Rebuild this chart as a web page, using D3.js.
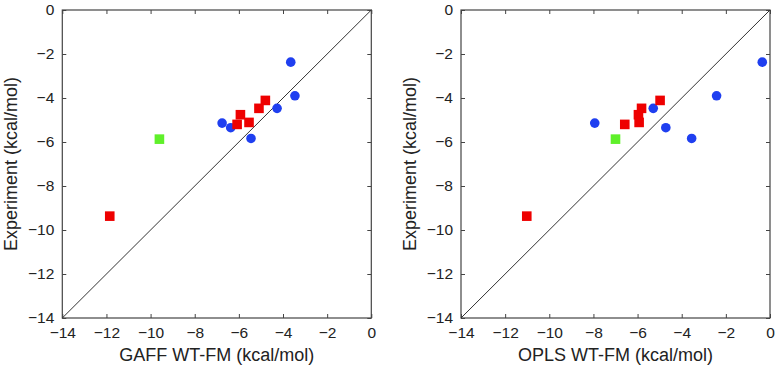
<!DOCTYPE html>
<html>
<head>
<meta charset="utf-8">
<script src="https://cdn.jsdelivr.net/npm/d3@7"></script>
<style>
  body { margin: 0; background: #fff; }
  text { font-family: "Liberation Sans", Arial, Helvetica, sans-serif; fill: #222; }
</style>
</head>
<body>
<div id="chart"></div>
<script>
// experiment values (y), shared by both panels
var expBlue  = [-2.37, -3.90, -4.47, -5.14, -5.35, -5.84];
var expRed   = [-4.11, -4.47, -4.76, -5.11, -5.20, -9.37];
var expGreen = [-5.87];

// GAFF WT-FM (x, left panel)
var gaffBlue  = [-3.65, -3.46, -4.27, -6.76, -6.37, -5.45];
var gaffRed   = [-4.80, -5.09, -5.93, -5.54, -6.08, -11.85];
var gaffGreen = [-9.60];

// OPLS WT-FM (x, right panel)
var oplsBlue  = [-0.35, -2.42, -5.29, -7.94, -4.72, -3.55];
var oplsRed   = [-4.98, -5.82, -5.96, -5.93, -6.58, -11.02];
var oplsGreen = [-7.00];

var tickValues = [-14, -12, -10, -8, -6, -4, -2, 0];
var domain = [-14, 0];

var svg = d3.select("#chart")
    .append("svg")
    .attr("width", 777)
    .attr("height", 369);

function zip(xs, ys) {
    return xs.map(function(v, i) { return {x: v, y: ys[i]}; });
}

function drawPanel(left, xLabel, blue, red, green) {
    var top = 10, w = 309, h = 308;

    var x = d3.scaleLinear().domain(domain).range([0, w]);
    var y = d3.scaleLinear().domain(domain).range([h, 0]);

    var g = svg.append("g")
        .attr("transform", "translate(" + left + "," + top + ")");

    // ticks on all four sides, pointing inward
    var bottom = g.append("g")
        .attr("transform", "translate(0," + h + ")")
        .call(d3.axisBottom(x).tickValues(tickValues).tickSize(-4).tickSizeOuter(0).tickPadding(9));
    var leftAx = g.append("g")
        .call(d3.axisLeft(y).tickValues(tickValues).tickSize(-4).tickSizeOuter(0).tickPadding(8));
    var topAx = g.append("g")
        .call(d3.axisTop(x).tickValues(tickValues).tickSize(-4).tickSizeOuter(0).tickFormat(""));
    var rightAx = g.append("g")
        .attr("transform", "translate(" + w + ",0)")
        .call(d3.axisRight(y).tickValues(tickValues).tickSize(-4).tickSizeOuter(0).tickFormat(""));

    [bottom, leftAx, topAx, rightAx].forEach(function(a) {
        a.select(".domain").remove();
        a.selectAll("line").attr("stroke", "#444");
        a.selectAll("text")
            .style("font-size", "15.5px")
            .style("font-family", "'Liberation Sans', Arial, sans-serif")
            .attr("fill", "#222");
    });

    // frame
    g.append("rect")
        .attr("width", w)
        .attr("height", h)
        .attr("fill", "none")
        .attr("stroke", "#444")
        .attr("stroke-width", 1.2);

    // y = x line
    g.append("line")
        .attr("x1", x(-14)).attr("y1", y(-14))
        .attr("x2", x(0)).attr("y2", y(0))
        .attr("stroke", "#333")
        .attr("stroke-width", 1);

    g.selectAll(".circ")
        .data(zip(blue, expBlue))
        .enter()
        .append("circle")
        .attr("cx", function(d) { return x(d.x); })
        .attr("cy", function(d) { return y(d.y); })
        .attr("r", 4.8)
        .attr("fill", "#1f3ff0");

    var s = 9.6;
    g.selectAll(".sqr")
        .data(zip(red, expRed))
        .enter()
        .append("rect")
        .attr("x", function(d) { return x(d.x) - s / 2; })
        .attr("y", function(d) { return y(d.y) - s / 2; })
        .attr("width", s)
        .attr("height", s)
        .attr("fill", "#ee0000");

    g.selectAll(".grn")
        .data(zip(green, expGreen))
        .enter()
        .append("rect")
        .attr("x", function(d) { return x(d.x) - s / 2; })
        .attr("y", function(d) { return y(d.y) - s / 2; })
        .attr("width", s)
        .attr("height", s)
        .attr("fill", "#5ff02a");

    g.append("text")
        .attr("x", w / 2)
        .attr("y", h + 43)
        .attr("text-anchor", "middle")
        .style("font-size", "18px")
        .text(xLabel);

    g.append("text")
        .attr("transform", "rotate(-90)")
        .attr("x", -h / 2)
        .attr("y", -45)
        .attr("text-anchor", "middle")
        .style("font-size", "18px")
        .text("Experiment (kcal/mol)");
}

drawPanel(62.3, "GAFF WT-FM (kcal/mol)", gaffBlue, gaffRed, gaffGreen);
drawPanel(461, "OPLS WT-FM (kcal/mol)", oplsBlue, oplsRed, oplsGreen);
</script>
</body>
</html>
